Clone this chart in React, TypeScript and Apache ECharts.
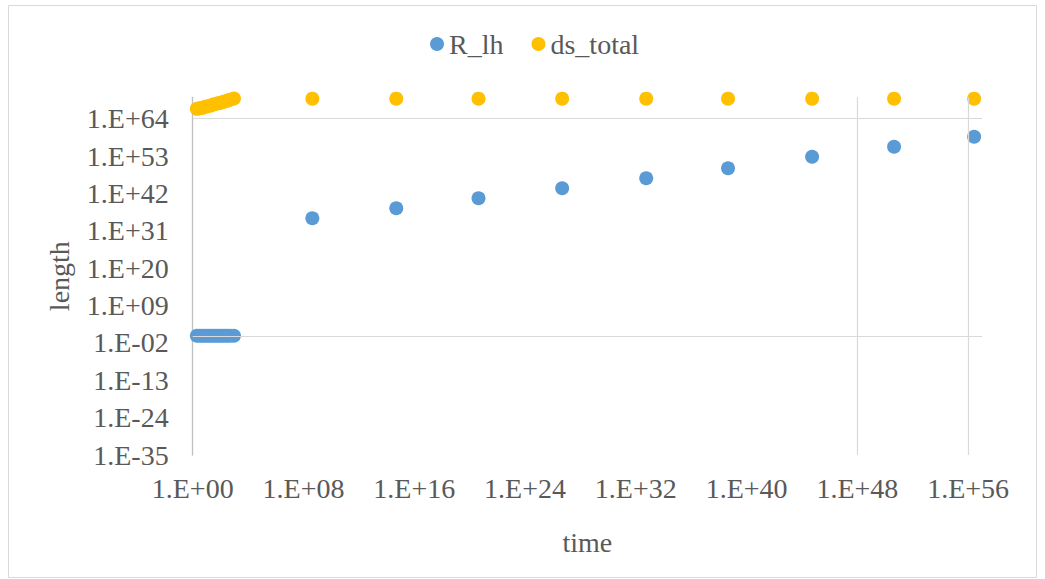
import React, { useEffect, useRef } from "react";
import * as echarts from "echarts";

// Values are given as base-10 exponents (log10).
const legendNames = ["R_lh", "ds_total"];

// early dense cluster (time exponents)
const clusterTimeExp = [0.3, 0.5, 0.7, 0.9, 1.1, 1.3, 1.5, 1.7, 1.9, 2.1, 2.3, 2.5, 2.7, 2.98];
const clusterRlhExp = [0.12, 0.12, 0.12, 0.12, 0.12, 0.12, 0.12, 0.12, 0.12, 0.12, 0.12, 0.12, 0.12, 0.12];
const clusterDsExp = [66.9, 67.1, 67.2, 67.5, 67.7, 67.9, 68.2, 68.4, 68.6, 68.8, 69.1, 69.3, 69.6, 69.95];

// later sparse points
const timeExp = [8.64, 14.7, 20.64, 26.68, 32.75, 38.66, 44.73, 50.65, 56.43];
const rlhExp = [34.68, 37.62, 40.57, 43.51, 46.46, 49.4, 52.81, 55.76, 58.7];
const dsExp = [69.9, 69.9, 69.9, 69.9, 69.9, 69.9, 69.9, 69.9, 69.9];

// axes (exponents)
const xTicks = [0, 8, 16, 24, 32, 40, 48, 56];
const yTicks = [-35, -24, -13, -2, 9, 20, 31, 42, 53, 64];
const xGridExp = [48, 56];
const yGridExp = [0, 64];

const FONT = "'Liberation Serif', 'Times New Roman', serif";
const TEXT = "#595959";

function fmtExp(v: number): string {
  const a = Math.abs(Math.round(v));
  const s = a < 10 ? "0" + a : String(a);
  return "1.E" + (v < 0 ? "-" : "+") + s;
}

export default function App() {
  const ref = useRef<HTMLDivElement>(null);
  useEffect(() => {
    if (!ref.current) return;
    const chart = echarts.init(ref.current, null, { renderer: "svg" });
    const rlhData = clusterTimeExp
      .map((t, i) => [t, clusterRlhExp[i]])
      .concat(timeExp.map((t, i) => [t, rlhExp[i]]));
    const dsData = clusterTimeExp
      .map((t, i) => [t, clusterDsExp[i]])
      .concat(timeExp.map((t, i) => [t, dsExp[i]]));
    const grid = { left: 192.7, right: 63, top: 97.3, bottom: 124 };
    chart.setOption({
      animation: false,
      backgroundColor: "#ffffff",
      textStyle: { fontFamily: FONT },
      graphic: [
        {
          type: "rect",
          shape: { x: 8.5, y: 5.5, width: 1028, height: 572 },
          style: { fill: "none", stroke: "#D9D9D9", lineWidth: 1 },
          silent: true,
        },
      ],
      legend: {
        data: legendNames,
        left: 430,
        top: 30,
        padding: 0,
        itemWidth: 14,
        itemHeight: 14,
        itemGap: 28,
        icon: "circle",
        textStyle: { fontFamily: FONT, fontSize: 28, color: TEXT },
      },
      grid,
      xAxis: {
        type: "value",
        min: 0,
        max: 57,
        interval: 8,
        name: "time",
        nameLocation: "middle",
        nameGap: 73,
        nameTextStyle: { fontFamily: FONT, fontSize: 28, color: TEXT },
        axisLine: { show: false },
        axisTick: { show: false },
        splitLine: { show: false },
        axisLabel: {
          fontFamily: FONT,
          fontSize: 28,
          color: TEXT,
          margin: 19,
          showMaxLabel: false,
          formatter: (v: number) => (xTicks.indexOf(Math.round(v)) >= 0 ? fmtExp(v) : ""),
        },
      },
      yAxis: {
        type: "value",
        min: -35,
        max: 70.3,
        interval: 11,
        name: "length",
        nameLocation: "middle",
        nameGap: 119,
        nameTextStyle: { fontFamily: FONT, fontSize: 28, color: TEXT },
        axisLine: { show: true, lineStyle: { color: "#BFBFBF", width: 1.3 } },
        axisTick: { show: false },
        splitLine: { show: false },
        axisLabel: {
          fontFamily: FONT,
          fontSize: 28,
          color: TEXT,
          margin: 24,
          showMaxLabel: false,
          formatter: (v: number) => (yTicks.indexOf(Math.round(v)) >= 0 ? fmtExp(v) : ""),
        },
      },
      series: [
        {
          name: "grid",
          type: "scatter",
          data: [],
          z: 1,
          silent: true,
          markLine: {
            silent: true,
            symbol: "none",
            label: { show: false },
            lineStyle: { color: "#D9D9D9", width: 1.2, type: "solid" },
            emphasis: { disabled: true },
            data: [
              ...xGridExp.map((v) => ({ xAxis: v })),
              ...yGridExp.map((v) => ({ yAxis: v })),
            ],
          },
        },
        {
          name: "R_lh",
          type: "scatter",
          symbol: "circle",
          symbolSize: 14,
          z: 3,
          itemStyle: { color: "#5B9BD5", opacity: 1 },
          data: rlhData,
        },
        {
          name: "ds_total",
          type: "scatter",
          symbol: "circle",
          symbolSize: 14,
          z: 3,
          itemStyle: { color: "#FFC000", opacity: 1 },
          data: dsData,
        },
      ],
    });
    return () => chart.dispose();
  }, []);
  return (
    <div
      ref={ref}
      style={{ position: "absolute", left: 0, top: 0, width: 1045, height: 579 }}
    />
  );
}
